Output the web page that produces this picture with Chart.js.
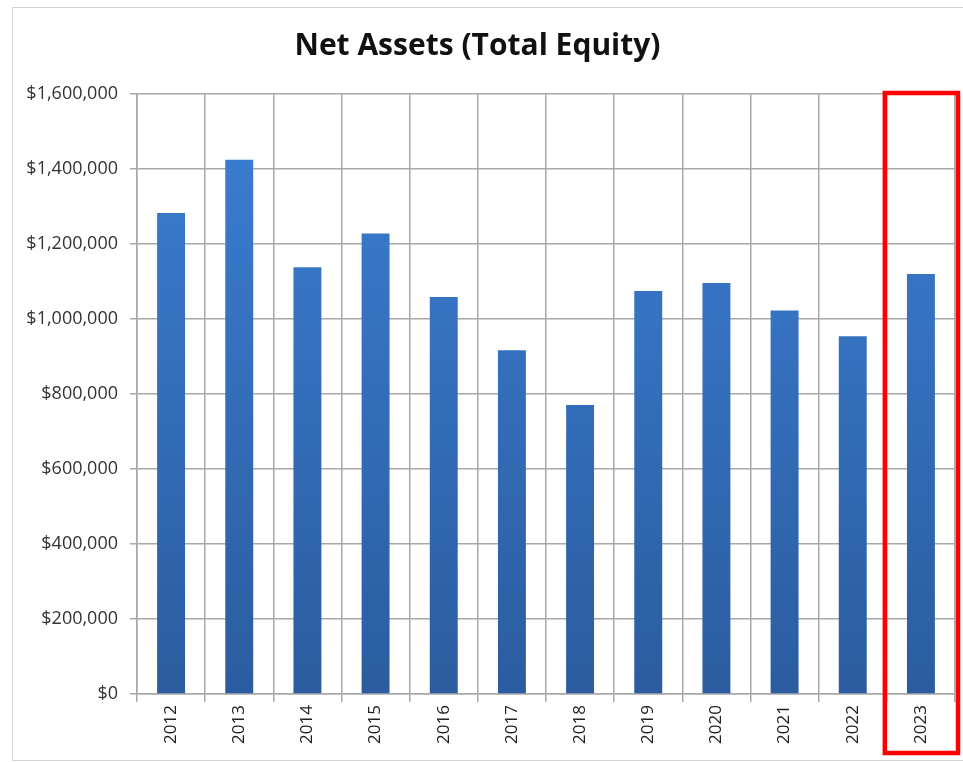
<!DOCTYPE html>
<html>
<head>
<meta charset="utf-8">
<script src="https://cdn.jsdelivr.net/npm/chart.js@4"></script>
<style>
  html, body { margin: 0; padding: 0; background: #fff; overflow: hidden; }
  #wrap { position: relative; width: 963px; height: 762px; overflow: hidden; }
  #frame { position: absolute; left: 12px; top: 7px; width: 980px; height: 752px; border: 1.5px solid #d4d4d4; }
  #netAssets { position: absolute; left: 0; top: 0; }
</style>
</head>
<body>
<div id="wrap">
  <div id="frame"></div>
  <canvas id="netAssets" width="963" height="762"></canvas>
</div>
<script>
// Net assets per year
const years = ['2012', '2013', '2014', '2015', '2016', '2017', '2018', '2019', '2020', '2021', '2022', '2023'];
const netAssets = [1283000, 1425000, 1138000, 1228000, 1059000, 917000, 771000, 1075000, 1096000, 1023000, 954000, 1120000];
const yTicks = [0, 200000, 400000, 600000, 800000, 1000000, 1200000, 1400000, 1600000];
const highlightYear = '2023';

const fontFamily = '"Open Sans", "Liberation Sans", sans-serif';

// blue bar gradient, lighter at the top like the Excel original
const barGradient = (context) => {
  const { chart } = context;
  const area = chart.chartArea;
  if (!area) return '#3a7bd0';
  const g = chart.ctx.createLinearGradient(0, area.top, 0, area.bottom);
  g.addColorStop(0, '#3b7fd4');
  g.addColorStop(1, '#2b5c9f');
  return g;
};

// red box around the highlighted year
const highlightBox = {
  id: 'highlightBox',
  afterDraw(chart) {
    const x = chart.scales.x;
    const idx = years.indexOf(highlightYear);
    if (idx < 0) return;
    const half = (x.getPixelForValue(1) - x.getPixelForValue(0)) / 2;
    const cx = x.getPixelForValue(idx);
    const ctx = chart.ctx;
    ctx.save();
    ctx.strokeStyle = '#ff0000';
    ctx.lineWidth = 4.5;
    ctx.strokeRect(cx - half - 2, chart.chartArea.top - 1, half * 2 + 5, 660);
    ctx.restore();
  }
};

new Chart(document.getElementById('netAssets'), {
  type: 'bar',
  data: {
    labels: years,
    datasets: [{
      label: 'Net Assets',
      data: netAssets,
      backgroundColor: barGradient,
      borderWidth: 0,
      categoryPercentage: 1,
      barPercentage: 0.41,
    }],
  },
  options: {
    responsive: false,
    animation: false,
    layout: { padding: { left: 0, right: 8, top: 0, bottom: 0 } },
    plugins: {
      legend: { display: false },
      tooltip: { enabled: false },
      title: {
        display: true,
        text: 'Net Assets (Total Equity)',
        color: '#111',
        font: { family: fontFamily, size: 30, weight: 'bold' },
        padding: { top: 28, bottom: 30 },
      },
    },
    scales: {
      y: {
        min: 0,
        max: 1600000,
        afterBuildTicks: (axis) => { axis.ticks = yTicks.map(v => ({ value: v })); },
        afterFit: (axis) => { axis.width = 137; },
        ticks: {
          color: '#333',
          padding: 12,
          font: { family: fontFamily, size: 18 },
          callback: (v) => '$' + Number(v).toLocaleString('en-US'),
        },
        grid: { color: '#a8a8a8', lineWidth: 1.5, tickLength: 7 },
        border: { color: '#a8a8a8', width: 1.5 },
      },
      x: {
        afterFit: (axis) => { axis.height = 68; },
        ticks: {
          color: '#222',
          minRotation: 90,
          maxRotation: 90,
          padding: 3,
          font: { family: fontFamily, size: 17 },
        },
        grid: { offset: true, color: '#a8a8a8', lineWidth: 1.5, tickLength: 8 },
        border: { color: '#a8a8a8', width: 1.5 },
      },
    },
  },
  plugins: [highlightBox],
});
</script>
</body>
</html>
